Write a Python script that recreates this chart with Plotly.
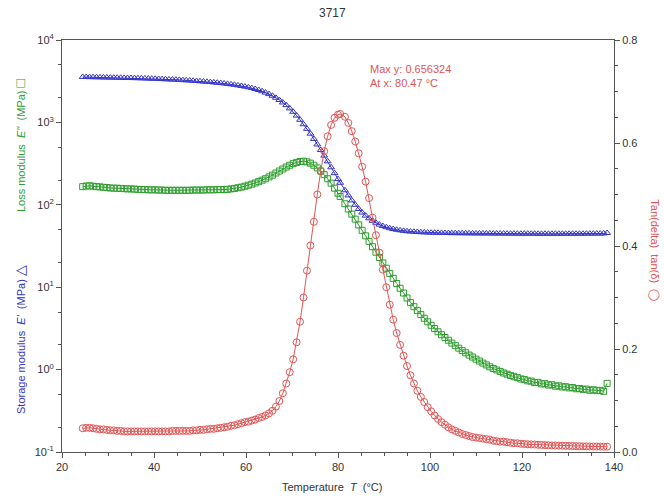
import plotly.graph_objects as go

# Temperatures (°C)
temps = [
    24.5, 25.25, 26.0, 26.75, 27.5, 28.25, 29.0, 29.75,
    30.5, 31.25, 32.0, 32.75, 33.5, 34.25, 35.0, 35.75,
    36.5, 37.25, 38.0, 38.75, 39.5, 40.25, 41.0, 41.75,
    42.5, 43.25, 44.0, 44.75, 45.5, 46.25, 47.0, 47.75,
    48.5, 49.25, 50.0, 50.75, 51.5, 52.25, 53.0, 53.75,
    54.5, 55.25, 56.0, 56.75, 57.5, 58.25, 59.0, 59.75,
    60.5, 61.25, 62.0, 62.75, 63.5, 64.25, 65.0, 65.75,
    66.5, 67.25, 68.0, 68.75, 69.5, 70.25, 71.0, 71.75,
    72.5, 73.25, 74.0, 74.75, 75.5, 76.25, 77.0, 77.75,
    78.5, 79.25, 80.0, 80.47, 81.5, 82.25, 83.0, 83.75,
    84.5, 85.25, 86.0, 86.75, 87.5, 88.25, 89.0, 89.75,
    90.5, 91.25, 92.0, 92.75, 93.5, 94.25, 95.0, 95.75,
    96.5, 97.25, 98.0, 98.75, 99.5, 100.25, 101.0, 101.75,
    102.5, 103.25, 104.0, 104.75, 105.5, 106.25, 107.0, 107.75,
    108.5, 109.25, 110.0, 110.75, 111.5, 112.25, 113.0, 113.75,
    114.5, 115.25, 116.0, 116.75, 117.5, 118.25, 119.0, 119.75,
    120.5, 121.25, 122.0, 122.75, 123.5, 124.25, 125.0, 125.75,
    126.5, 127.25, 128.0, 128.75, 129.5, 130.25, 131.0, 131.75,
    132.5, 133.25, 134.0, 134.75, 135.5, 136.25, 137.0, 137.75,
    138.5,
]

# Storage modulus E' (MPa)
storage = [
    3560, 3552, 3545, 3537, 3530, 3522, 3515, 3507,
    3500, 3492, 3485, 3477, 3470, 3462, 3455, 3447,
    3440, 3429, 3418, 3406, 3395, 3383, 3370, 3355,
    3340, 3325, 3310, 3295, 3280, 3262, 3243, 3223,
    3200, 3178, 3155, 3133, 3110, 3084, 3058, 3030,
    3000, 2970, 2935, 2898, 2860, 2815, 2770, 2722,
    2670, 2610, 2545, 2475, 2390, 2300, 2205, 2105,
    1990, 1870, 1745, 1620, 1480, 1345, 1210, 1075,
    950, 835, 730, 630, 540, 462, 395, 337,
    285, 242, 205, 185, 150, 130, 113, 100,
    89, 80.5, 74, 68.5, 64, 60.5, 57.5, 55.2,
    53.5, 52, 50.8, 49.8, 49, 48.3, 47.8, 47.4,
    47.1, 46.8, 46.5, 46.3, 46.1, 45.9, 45.8, 45.7,
    45.6, 45.5, 45.4, 45.3, 45.3, 45.2, 45.2, 45.1,
    45.1, 45.0, 45.0, 45.0, 44.9, 44.9, 44.9, 44.8,
    44.8, 44.8, 44.8, 44.7, 44.7, 44.7, 44.7, 44.6,
    44.6, 44.6, 44.6, 44.6, 44.5, 44.5, 44.5, 44.5,
    44.5, 44.5, 44.5, 44.5, 44.5, 44.5, 44.6, 44.6,
    44.6, 44.6, 44.7, 44.7, 44.7, 44.8, 44.8, 44.9,
    45.5,
]

# Loss modulus E'' (MPa)
loss = [
    166, 169, 170, 168, 166, 165, 163, 162,
    160, 159, 159, 158, 157, 156, 156, 155,
    154, 153, 153, 152, 152, 152, 151, 151,
    150, 150, 150, 150, 150, 150, 150, 150,
    151, 151, 151, 151, 152, 152, 152, 153,
    153, 153, 154, 156, 158, 161, 164, 168,
    173, 178, 184, 191, 199, 207, 218, 229,
    243, 257, 272, 287, 302, 316, 327, 335,
    338, 332, 320, 302, 280, 256, 232, 207,
    183, 159, 138, 126, 103, 89, 77, 67,
    57, 49, 42, 36, 31, 26.6, 22.9, 19.7,
    17.0, 14.7, 12.8, 11.1, 9.7, 8.5, 7.4, 6.5,
    5.8, 5.2, 4.65, 4.2, 3.8, 3.45, 3.15, 2.88,
    2.65, 2.45, 2.27, 2.1, 1.95, 1.82, 1.7, 1.6,
    1.50, 1.42, 1.34, 1.27, 1.20, 1.14, 1.08, 1.03,
    0.99, 0.95, 0.91, 0.88, 0.85, 0.82, 0.80, 0.77,
    0.76, 0.73, 0.725, 0.695, 0.70, 0.67, 0.675, 0.65,
    0.655, 0.63, 0.635, 0.615, 0.62, 0.60, 0.605, 0.585,
    0.59, 0.575, 0.58, 0.56, 0.57, 0.555, 0.56, 0.545,
    0.68,
]

# tan(delta)
tan_delta = [
    0.046, 0.047, 0.047, 0.046, 0.045, 0.044, 0.044, 0.043,
    0.042, 0.042, 0.041, 0.041, 0.040, 0.040, 0.040, 0.040,
    0.040, 0.040, 0.040, 0.040, 0.040, 0.040, 0.040, 0.040,
    0.040, 0.040, 0.041, 0.041, 0.041, 0.041, 0.041, 0.041,
    0.042, 0.042, 0.043, 0.043, 0.044, 0.045, 0.045, 0.046,
    0.047, 0.048, 0.049, 0.051, 0.052, 0.054, 0.056, 0.058,
    0.059, 0.061, 0.063, 0.066, 0.068, 0.071, 0.075, 0.080,
    0.088, 0.099, 0.114, 0.133, 0.155, 0.180, 0.213, 0.253,
    0.300, 0.352, 0.401, 0.447, 0.500, 0.546, 0.584, 0.613,
    0.635, 0.649, 0.655, 0.656324, 0.651, 0.639, 0.623, 0.603,
    0.580, 0.554, 0.525, 0.493, 0.455, 0.421, 0.387, 0.354,
    0.320, 0.286, 0.257, 0.231, 0.208, 0.187, 0.167, 0.149,
    0.133, 0.119, 0.107, 0.097, 0.087, 0.079, 0.071, 0.064,
    0.058, 0.053, 0.048, 0.044, 0.041, 0.038, 0.035, 0.033,
    0.031, 0.029, 0.028, 0.027, 0.026, 0.025, 0.024, 0.022,
    0.021, 0.020, 0.020, 0.019, 0.018, 0.017, 0.017, 0.016,
    0.0155, 0.015, 0.0148, 0.0145, 0.014, 0.0137, 0.0134, 0.0131,
    0.0128, 0.0126, 0.0124, 0.0122, 0.012, 0.0118, 0.0116, 0.0114,
    0.0112, 0.011, 0.0109, 0.0108, 0.0107, 0.0106, 0.0105, 0.0104,
    0.0103,
]

left_tickvals = [0.1, 1, 10, 100, 1000, 10000]
left_ticktext = ["10<sup>-1</sup>", "10<sup>0</sup>", "10<sup>1</sup>",
                 "10<sup>2</sup>", "10<sup>3</sup>", "10<sup>4</sup>"]

BLUE = "#3535c8"
GREEN = "#2e9e2e"
RED = "#e05555"
AX = "#555555"
FONT = "Liberation Sans, Arial, sans-serif"

fig = go.Figure()
fig.add_trace(go.Scatter(
    x=temps, y=loss, mode="lines+markers", yaxis="y",
    line=dict(color=GREEN, width=1),
    marker=dict(symbol="square-open", size=6, color=GREEN, line=dict(width=1)),
    showlegend=False))
fig.add_trace(go.Scatter(
    x=temps, y=storage, mode="lines+markers", yaxis="y",
    line=dict(color=BLUE, width=1),
    marker=dict(symbol="triangle-up-open", size=6, color=BLUE, line=dict(width=1)),
    showlegend=False))
fig.add_trace(go.Scatter(
    x=temps, y=tan_delta, mode="lines+markers", yaxis="y2",
    line=dict(color=RED, width=1),
    marker=dict(symbol="circle-open", size=7, color=RED, line=dict(width=1)),
    showlegend=False))

tickfont = dict(family=FONT, size=11, color="#333333")
SYM = '<span style="font-size:14px">%s</span>'
CIRC = '<span style="font-size:11px">◯</span>'

fig.update_layout(
    width=664, height=496,
    margin=dict(l=62, r=50, t=40, b=44),
    paper_bgcolor="white", plot_bgcolor="white",
    font=dict(family=FONT, size=11, color="#333333"),
    xaxis=dict(
        range=[20, 140], dtick=20, tick0=20,
        showline=True, linecolor=AX, linewidth=1, mirror=True,
        ticks="outside", ticklen=5, tickcolor=AX,
        minor=dict(dtick=5, ticks="outside", ticklen=3, tickcolor=AX),
        showgrid=False, zeroline=False, tickfont=tickfont,
    ),
    yaxis=dict(
        type="log", range=[-1, 4],
        tickvals=left_tickvals, ticktext=left_ticktext,
        showline=True, linecolor=AX, linewidth=1,
        ticks="outside", ticklen=5, tickcolor=AX,
        minor=dict(ticks="outside", ticklen=3, tickcolor=AX, showgrid=False),
        showgrid=False, zeroline=False, tickfont=tickfont,
    ),
    yaxis2=dict(
        range=[0, 0.8], dtick=0.2, tick0=0, tickformat=".1f",
        overlaying="y", side="right", anchor="x",
        showline=True, linecolor=AX, linewidth=1,
        ticks="outside", ticklen=5, tickcolor=AX,
        minor=dict(dtick=0.05, ticks="outside", ticklen=3, tickcolor=AX),
        showgrid=False, zeroline=False, tickfont=tickfont,
    ),
    annotations=[
        dict(text="3717", xref="paper", yref="paper", x=0.49, y=1.066,
             xanchor="center", yanchor="middle",
             showarrow=False, font=dict(size=12, color="#333333")),
        dict(text="Temperature  <i>T</i>  (°C)", xref="paper", yref="paper",
             x=0.49, y=-0.085, xanchor="center", yanchor="middle",
             showarrow=False, font=dict(size=11, color="#333333")),
        dict(text="Loss modulus  <i>E''</i>  (MPa) " + SYM % "□",
             xref="paper", yref="paper",
             x=-0.076, y=0.745, xanchor="center", yanchor="middle",
             textangle=-90, showarrow=False,
             font=dict(size=11, color=GREEN)),
        dict(text="Storage modulus  <i>E'</i>  (MPa) " + SYM % "△",
             xref="paper", yref="paper",
             x=-0.076, y=0.272, xanchor="center", yanchor="middle",
             textangle=-90, showarrow=False,
             font=dict(size=11, color=BLUE)),
        dict(text="Tan(delta)  tan(δ)  " + CIRC,
             xref="paper", yref="paper",
             x=1.074, y=0.49, xanchor="center", yanchor="middle",
             textangle=90, showarrow=False,
             font=dict(size=11, color=RED)),
        dict(text="Max y: 0.656324<br>At x: 80.47 °C", xref="paper", yref="paper",
             x=0.554, y=0.913, xanchor="left", yanchor="middle",
             align="left", showarrow=False,
             font=dict(size=11, color=RED)),
    ],
)

fig.write_html("out.html")
